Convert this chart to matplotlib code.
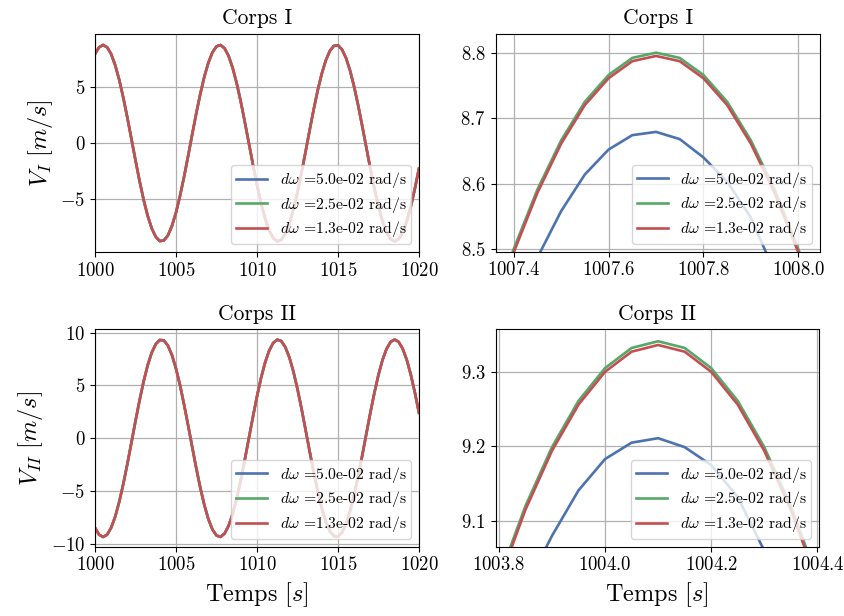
"""
Vitesses des deux corps pour trois pas d'échantillonnage en fréquence.
Vue globale (gauche) et zoom sur un maximum (droite).
"""
import matplotlib
matplotlib.use("Agg")
import matplotlib.pyplot as plt

plt.rcParams["font.family"] = "cmr10"
plt.rcParams["mathtext.fontset"] = "cm"
plt.rcParams["axes.formatter.use_mathtext"] = True
plt.rcParams["axes.unicode_minus"] = True

BLUE = "#4c72b0"
GREEN = "#55a868"
RED = "#c44e52"
GRID = "#b0b0b0"

LABELS = [r"$d\omega$ =5.0e-02 rad/s", r"$d\omega$ =2.5e-02 rad/s", r"$d\omega$ =1.3e-02 rad/s"]

# --- vue globale : t = 1000 .. 1020 s, pas 0.25 s ---
t_global = [1000 + 0.25 * k for k in range(81)]

v1_global = [
    7.98, 8.59, 8.80, 8.59, 7.98, 6.98, 5.66, 4.06, 2.28, 0.38,
    -1.53, -3.37, -5.05, -6.49, -7.62, -8.39, -8.77, -8.72, -8.27, -7.42,
    -6.22, -4.73, -3.01, -1.15, 0.77, 2.65, 4.40, 5.95, 7.21, 8.13,
    8.67, 8.79, 8.50, 7.81, 6.74, 5.36, 3.72, 1.90, 0.00, -1.90,
    -3.72, -5.36, -6.74, -7.81, -8.50, -8.79, -8.67, -8.13, -7.21, -5.95,
    -4.40, -2.65, -0.77, 1.15, 3.01, 4.73, 6.22, 7.42, 8.27, 8.72,
    8.77, 8.39, 7.62, 6.49, 5.05, 3.37, 1.53, -0.38, -2.28, -4.06,
    -5.66, -6.98, -7.98, -8.59, -8.80, -8.59, -7.98, -6.98, -5.66, -4.06,
    -2.28,
]

v2_global = [
    -8.46, -9.12, -9.34, -9.12, -8.46, -7.41, -6.00, -4.31, -2.42, -0.41,
    1.62, 3.57, 5.36, 6.89, 8.09, 8.91, 9.30, 9.26, 8.78, 7.88,
    6.60, 5.02, 3.19, 1.22, -0.81, -2.81, -4.67, -6.31, -7.65, -8.63,
    -9.20, -9.33, -9.02, -8.28, -7.15, -5.69, -3.95, -2.02, 0.00, 2.02,
    3.95, 5.69, 7.15, 8.28, 9.02, 9.33, 9.20, 8.63, 7.65, 6.31,
    4.67, 2.81, 0.81, -1.22, -3.19, -5.02, -6.60, -7.88, -8.78, -9.26,
    -9.30, -8.91, -8.09, -6.89, -5.36, -3.57, -1.62, 0.41, 2.42, 4.31,
    6.00, 7.41, 8.46, 9.12, 9.34, 9.12, 8.46, 7.41, 6.00, 4.31,
    2.42,
]

# --- zoom corps I autour de t = 1007.7 s, pas 0.05 s ---
t_zoom1 = [1007.35 + 0.05 * k for k in range(15)]
v1_zoom_blue = [8.31, 8.41, 8.487, 8.558, 8.614, 8.652, 8.674, 8.679,
                8.668, 8.640, 8.603, 8.548, 8.465, 8.38, 8.28]
v1_zoom_green = [8.393, 8.500, 8.591, 8.666, 8.725, 8.766, 8.792, 8.800,
                 8.792, 8.766, 8.725, 8.666, 8.591, 8.500, 8.393]
v1_zoom_red = [8.389, 8.495, 8.586, 8.661, 8.720, 8.761, 8.787, 8.795,
               8.787, 8.761, 8.720, 8.661, 8.586, 8.495, 8.389]

# --- zoom corps II autour de t = 1004.1 s, pas 0.05 s ---
t_zoom2 = [1003.75 + 0.05 * k for k in range(15)]
v2_zoom_blue = [8.87, 8.95, 9.01, 9.08, 9.141, 9.183, 9.205, 9.211,
                9.199, 9.175, 9.132, 9.060, 8.98, 8.89, 8.79]
v2_zoom_green = [8.908, 9.023, 9.120, 9.199, 9.261, 9.305, 9.332, 9.341,
                 9.332, 9.305, 9.261, 9.199, 9.120, 9.023, 8.908]
v2_zoom_red = [8.904, 9.018, 9.115, 9.194, 9.256, 9.300, 9.327, 9.336,
               9.327, 9.300, 9.256, 9.194, 9.115, 9.018, 8.904]


def style_axes(ax, title):
    ax.set_title(title, fontsize=15.5, pad=7)
    ax.grid(True, color=GRID, linewidth=0.9)
    ax.set_axisbelow(True)
    ax.tick_params(labelsize=13.5)


def draw(ax, t, series):
    for y, c, lab in zip(series, [BLUE, GREEN, RED], LABELS):
        ax.plot(t, y, color=c, linewidth=1.9, label=lab)
    ax.legend(loc="lower right", fontsize=11.3, handlelength=2.0,
              labelspacing=0.3, borderpad=0.3)


fig = plt.figure(figsize=(8.45, 6.16), dpi=100)
fig.patch.set_facecolor("white")

ax1 = fig.add_axes([0.1124, 0.5909, 0.3834, 0.3539])
ax2 = fig.add_axes([0.5866, 0.5914, 0.3834, 0.3539])
ax3 = fig.add_axes([0.1124, 0.1125, 0.3834, 0.3529])
ax4 = fig.add_axes([0.5866, 0.1125, 0.3826, 0.3529])

draw(ax1, t_global, [v1_global, v1_global, v1_global])
style_axes(ax1, "Corps I")
ax1.set_xlim(1000, 1020)
ax1.set_ylim(-9.75, 9.78)
ax1.set_yticks([-5, 0, 5])
ax1.set_xticks([1000, 1005, 1010, 1015, 1020])
ax1.set_ylabel(r"$V_I\ [m/s]$", fontsize=17.5)

draw(ax2, t_zoom1, [v1_zoom_blue, v1_zoom_green, v1_zoom_red])
style_axes(ax2, "Corps I")
ax2.set_xlim(1007.362, 1008.045)
ax2.set_ylim(8.496, 8.829)
ax2.set_xticks([1007.4, 1007.6, 1007.8, 1008.0])
ax2.set_yticks([8.5, 8.6, 8.7, 8.8])
ax2.xaxis.set_major_formatter(matplotlib.ticker.FormatStrFormatter(r"$\mathdefault{%.1f}$"))

draw(ax3, t_global, [v2_global, v2_global, v2_global])
style_axes(ax3, "Corps II")
ax3.set_xlim(1000, 1020)
ax3.set_ylim(-10.26, 10.31)
ax3.set_yticks([-10, -5, 0, 5, 10])
ax3.set_xticks([1000, 1005, 1010, 1015, 1020])
ax3.set_ylabel(r"$V_{II}\ [m/s]$", fontsize=17.5)
ax3.set_xlabel(r"Temps $[s]$", fontsize=17.5)

draw(ax4, t_zoom2, [v2_zoom_blue, v2_zoom_green, v2_zoom_red])
style_axes(ax4, "Corps II")
ax4.set_xlim(1003.794, 1004.403)
ax4.set_ylim(9.0655, 9.357)
ax4.set_xticks([1003.8, 1004.0, 1004.2, 1004.4])
ax4.set_yticks([9.1, 9.2, 9.3])
ax4.xaxis.set_major_formatter(matplotlib.ticker.FormatStrFormatter(r"$\mathdefault{%.1f}$"))
ax4.set_xlabel(r"Temps $[s]$", fontsize=17.5)

fig.savefig("out.png", dpi=100, facecolor="white")
